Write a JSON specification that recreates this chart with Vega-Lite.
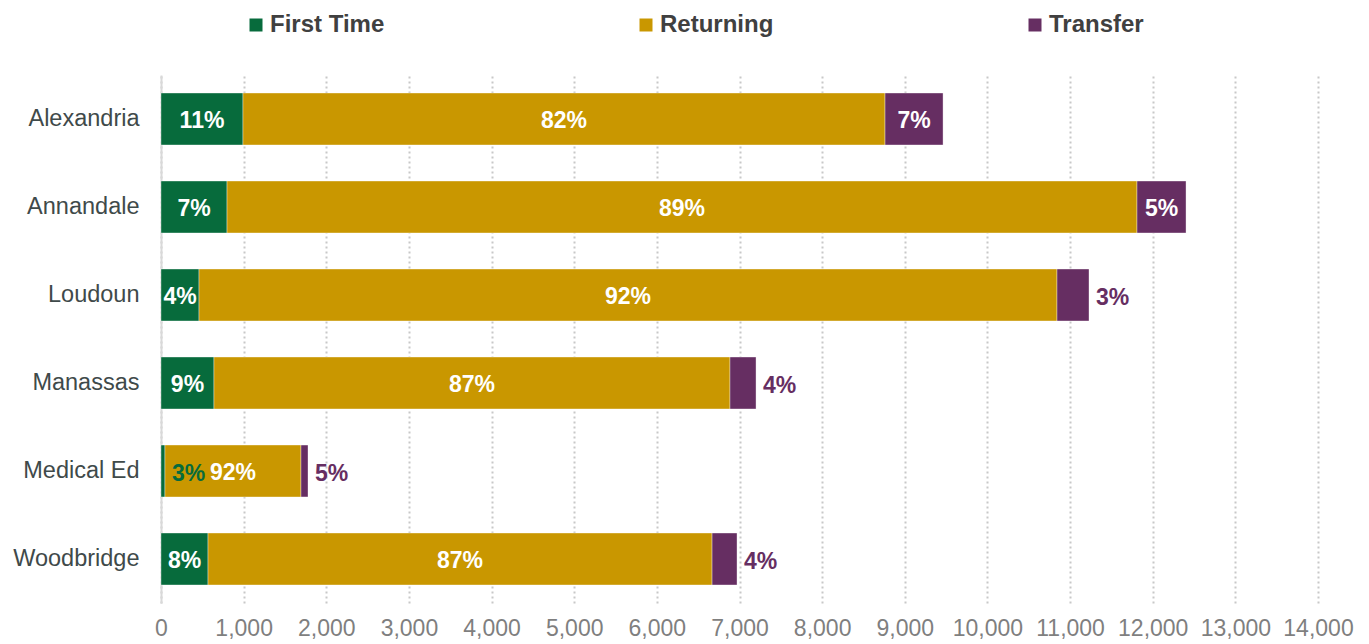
{
  "$schema": "https://vega.github.io/schema/vega-lite/v6.json",
  "width": 1157,
  "height": 528,
  "autosize": {"type": "none"},
  "padding": {"left": 161, "top": 75, "right": 51, "bottom": 41},
  "background": "white",
  "config": {"font": "Liberation Sans, Arial, sans-serif", "view": {"stroke": null}},
  "data": {
    "values": [
      {"site": "Alexandria", "type": "First Time", "value": 992, "pct": "11%"},
      {"site": "Alexandria", "type": "Returning", "value": 7769, "pct": "82%"},
      {"site": "Alexandria", "type": "Transfer", "value": 702, "pct": "7%"},
      {"site": "Annandale", "type": "First Time", "value": 799, "pct": "7%"},
      {"site": "Annandale", "type": "Returning", "value": 11011, "pct": "89%"},
      {"site": "Annandale", "type": "Transfer", "value": 593, "pct": "5%"},
      {"site": "Loudoun", "type": "First Time", "value": 460, "pct": "4%"},
      {"site": "Loudoun", "type": "Returning", "value": 10382, "pct": "92%"},
      {"site": "Loudoun", "type": "Transfer", "value": 387, "pct": "3%"},
      {"site": "Manassas", "type": "First Time", "value": 641, "pct": "9%"},
      {"site": "Manassas", "type": "Returning", "value": 6244, "pct": "87%"},
      {"site": "Manassas", "type": "Transfer", "value": 315, "pct": "4%"},
      {"site": "Medical Ed", "type": "First Time", "value": 48, "pct": "3%"},
      {"site": "Medical Ed", "type": "Returning", "value": 1646, "pct": "92%"},
      {"site": "Medical Ed", "type": "Transfer", "value": 85, "pct": "5%"},
      {"site": "Woodbridge", "type": "First Time", "value": 569, "pct": "8%"},
      {"site": "Woodbridge", "type": "Returning", "value": 6099, "pct": "87%"},
      {"site": "Woodbridge", "type": "Transfer", "value": 302, "pct": "4%"}
    ]
  },
  "encoding": {
    "y": {
      "field": "site",
      "type": "nominal",
      "sort": null,
      "title": null,
      "scale": {"paddingInner": 0.41, "paddingOuter": 0.205},
      "axis": {
        "ticks": false,
        "labelPadding": 22,
        "labelFontSize": 23.5,
        "labelColor": "#3F4A4A",
        "domainColor": "#D9D9D9",
        "domainWidth": 2,
        "grid": false
      }
    }
  },
  "layer": [
    {
      "mark": {"type": "bar", "stroke": "#ffffff", "strokeWidth": 0.6, "strokeOpacity": 0.6},
      "encoding": {
        "x": {
          "field": "value",
          "type": "quantitative",
          "stack": "zero",
          "scale": {"domain": [0, 14000], "nice": false, "zero": true},
          "axis": {
            "title": null,
            "values": [0, 1000, 2000, 3000, 4000, 5000, 6000, 7000, 8000, 9000, 10000, 11000, 12000, 13000, 14000],
            "format": ",d",
            "domain": false,
            "ticks": false,
            "labelOverlap": false,
            "labelFlush": false,
            "labelBound": false,
            "labelPadding": 14,
            "labelFontSize": 23,
            "labelColor": "#7F7F7F",
            "grid": true,
            "gridColor": "#C8C8C8",
            "gridWidth": 2,
            "gridDash": [2, 3]
          }
        },
        "color": {
          "field": "type",
          "type": "nominal",
          "scale": {"domain": ["First Time", "Returning", "Transfer"], "range": ["#076B3C", "#C99700", "#662E62"]},
          "legend": {
            "title": null,
            "orient": "none",
            "direction": "horizontal",
            "legendX": 83,
            "legendY": -62,
            "padding": 0,
            "symbolType": "square",
            "symbolSize": 169,
            "symbolStrokeWidth": 0,
            "labelFontSize": 24,
            "labelFontWeight": "bold",
            "labelColor": "#404040",
            "labelOffset": 2,
            "columnPadding": 249,
            "labelLimit": 300
          }
        },
        "order": {"field": "type", "sort": "ascending"}
      }
    },
    {
      "transform": [
        {"stack": "value", "groupby": ["site"], "sort": [{"field": "type", "order": "ascending"}], "as": ["v0", "v1"]},
        {"calculate": "(datum.v0 + datum.v1) / 2", "as": "mid"},
        {"filter": "datum.v1 - datum.v0 >= 420"}
      ],
      "mark": {"type": "text", "color": "#ffffff", "fontWeight": "bold", "fontSize": 23, "baseline": "middle", "align": "center", "dy": 2},
      "encoding": {
        "x": {"field": "mid", "type": "quantitative"},
        "text": {"field": "pct"}
      }
    },
    {
      "transform": [
        {"stack": "value", "groupby": ["site"], "sort": [{"field": "type", "order": "ascending"}], "as": ["v0", "v1"]},
        {"filter": "datum.v1 - datum.v0 < 420"}
      ],
      "mark": {"type": "text", "fontWeight": "bold", "fontSize": 23, "baseline": "middle", "align": "left", "dx": 7, "dy": 3},
      "encoding": {
        "x": {"field": "v1", "type": "quantitative"},
        "text": {"field": "pct"},
        "color": {
          "condition": {"test": "datum.type === 'First Time'", "value": "#076B3C"},
          "value": "#662E62"
        }
      }
    }
  ]
}
